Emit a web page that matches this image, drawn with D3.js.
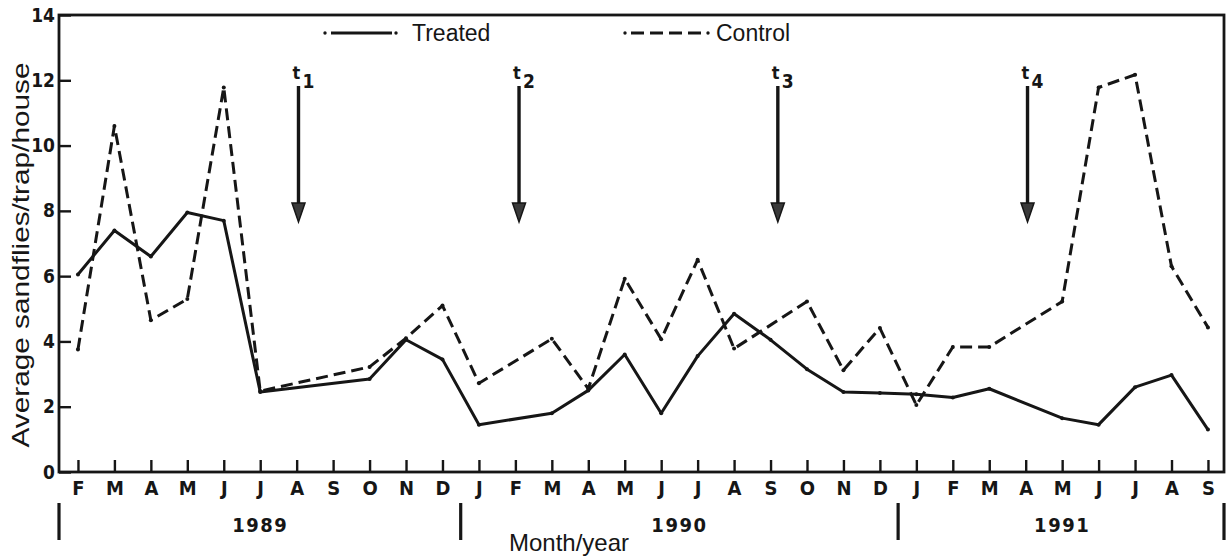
<!DOCTYPE html>
<html>
<head>
<meta charset="utf-8">
<script src="https://cdn.jsdelivr.net/npm/d3@7/dist/d3.min.js"></script>
<style>
  html, body { margin: 0; padding: 0; background: #fff; }
  svg { display: block; }
</style>
</head>
<body>
<svg id="chart" width="1226" height="557"></svg>
<script>
// ---- data ----
const months = ["F","M","A","M","J","J","A","S","O","N","D",
                "J","F","M","A","M","J","J","A","S","O","N","D",
                "J","F","M","A","M","J","J","A","S"];
const treated = [6.05, 7.4, 6.6, 7.95, 7.7, 2.45, null, null, 2.85, 4.05, 3.45,
                 1.45, null, 1.8, 2.5, 3.6, 1.8, 3.55, 4.85, 4.05, 3.15, 2.45, 2.42,
                 2.38, 2.28, 2.55, null, 1.65, 1.45, 2.6, 2.97, 1.3];
const control = [3.75, 10.6, 4.65, 5.3, 11.78, 2.48, null, null, 3.22, 4.1, 5.1,
                 2.72, null, 4.08, 2.55, 5.92, 4.07, 6.5, 3.78, null, 5.22, 3.12, 4.41,
                 2.05, 3.83, 3.83, null, 5.22, 11.78, 12.17, 6.3, 4.43];
const yTicks = [0, 2, 4, 6, 8, 10, 12, 14];
const years = [
  { label: "1989", from: 0, to: 10 },
  { label: "1990", from: 11, to: 22 },
  { label: "1991", from: 23, to: 31 }
];
const treatments = [
  { label: "1", month: 6.05 },
  { label: "2", month: 12.1 },
  { label: "3", month: 19.2 },
  { label: "4", month: 26.05 }
];
const seriesNames = ["Treated", "Control"];

// ---- layout ----
const svg = d3.select("#chart");
const pLeft = 59, pRight = 1224, pTop = 15, pBottom = 472;
const x = d3.scaleLinear().domain([-0.52, 31.44]).range([pLeft, pRight]);
const y = d3.scaleLinear().domain([0, 14]).range([pBottom, pTop]);
const ink = "#161616";
const tickFont = "'DejaVu Sans Condensed', 'DejaVu Sans', sans-serif";
const textFont = "'Liberation Sans', Arial, Helvetica, sans-serif";

// frame
svg.append("rect")
  .attr("x", pLeft).attr("y", pTop)
  .attr("width", pRight - pLeft).attr("height", pBottom - pTop)
  .attr("fill", "none").attr("stroke", ink).attr("stroke-width", 2.8);

// y axis
const yAxis = d3.axisLeft(y).tickValues(yTicks).tickSize(-12).tickPadding(5)
  .tickFormat(d3.format("d"));
const gy = svg.append("g").attr("transform", `translate(${pLeft},0)`).call(yAxis);
gy.select(".domain").remove();
gy.selectAll(".tick line").attr("stroke", ink).attr("stroke-width", 2.4);
gy.selectAll(".tick text")
  .attr("font-family", tickFont).attr("font-weight", "bold")
  .attr("font-size", 19).attr("fill", ink).attr("x", -4);

// x axis
const xAxis = d3.axisBottom(x).tickValues(d3.range(months.length)).tickSize(-12)
  .tickPadding(8).tickFormat(i => months[i]);
const gx = svg.append("g").attr("transform", `translate(0,${pBottom})`).call(xAxis);
gx.select(".domain").remove();
gx.selectAll(".tick line").attr("stroke", ink).attr("stroke-width", 2.4);
gx.selectAll(".tick text")
  .attr("font-family", tickFont).attr("font-weight", "bold")
  .attr("font-size", 20).attr("fill", ink).attr("y", 9).attr("dy", "0.71em");

// year separators and labels
const sepPositions = [x(-0.52), x(10.5), x(22.5), x(31.44)];
svg.selectAll("line.sep").data(sepPositions).enter().append("line")
  .attr("class", "sep")
  .attr("x1", d => d).attr("x2", d => d)
  .attr("y1", 503).attr("y2", 540)
  .attr("stroke", ink).attr("stroke-width", 3.2);
svg.selectAll("text.year").data(years).enter().append("text")
  .attr("class", "year")
  .attr("x", d => x((d.from + d.to) / 2))
  .attr("y", 532)
  .attr("text-anchor", "middle")
  .attr("font-family", tickFont).attr("font-weight", "bold")
  .attr("font-size", 20).attr("fill", ink)
  .attr("letter-spacing", 1.5)
  .text(d => d.label);

// axis titles
svg.append("text")
  .attr("x", 569).attr("y", 551)
  .attr("text-anchor", "middle")
  .attr("font-family", textFont).attr("font-size", 24).attr("fill", ink)
  .text("Month/year");
svg.append("text")
  .attr("transform", "translate(29,255) rotate(-90)")
  .attr("text-anchor", "middle")
  .attr("font-family", textFont).attr("font-size", 24).attr("fill", ink)
  .attr("textLength", 385).attr("lengthAdjust", "spacingAndGlyphs")
  .text("Average sandflies/trap/house");

// lines
const line = d3.line().x(d => x(d.i)).y(d => y(d.v));
function pts(arr) { return arr.map((v, i) => ({ i, v })).filter(d => d.v !== null); }

svg.append("path").datum(pts(control))
  .attr("d", line).attr("fill", "none").attr("stroke", ink)
  .attr("stroke-width", 3).attr("stroke-dasharray", "12,6")
  .attr("stroke-linejoin", "round");
svg.append("path").datum(pts(treated))
  .attr("d", line).attr("fill", "none").attr("stroke", ink)
  .attr("stroke-width", 3).attr("stroke-linejoin", "round");

[treated, control].forEach(arr => {
  svg.append("g").selectAll("circle").data(pts(arr)).enter().append("circle")
    .attr("cx", d => x(d.i)).attr("cy", d => y(d.v)).attr("r", 2).attr("fill", ink);
});

// legend
const legend = [
  { name: seriesNames[0], x1: 325, x2: 396, tx: 412, dash: null },
  { name: seriesNames[1], x1: 625, x2: 708, tx: 716, dash: "13,6" }
];
legend.forEach(l => {
  svg.append("line")
    .attr("x1", l.x1 + 6).attr("x2", l.x2 - 4).attr("y1", 33).attr("y2", 33)
    .attr("stroke", ink).attr("stroke-width", 2.8)
    .attr("stroke-dasharray", l.dash);
  svg.append("circle").attr("cx", l.x1).attr("cy", 33).attr("r", 1.7).attr("fill", ink);
  svg.append("circle").attr("cx", l.x2).attr("cy", 33).attr("r", 1.7).attr("fill", ink);
  svg.append("text")
    .attr("x", l.tx).attr("y", 41)
    .attr("font-family", textFont).attr("font-size", 23).attr("fill", ink)
    .text(l.name);
});

// treatment arrows
const arrows = svg.selectAll("g.arrow").data(treatments).enter().append("g")
  .attr("class", "arrow")
  .attr("transform", d => `translate(${x(d.month)},0)`);
arrows.append("line")
  .attr("x1", 0).attr("x2", 0).attr("y1", 86).attr("y2", 205)
  .attr("stroke", ink).attr("stroke-width", 3.4);
arrows.append("path")
  .attr("d", "M-6.5,203 L6.5,203 L0,222 Z")
  .attr("fill", "#3a3a3a").attr("stroke", ink).attr("stroke-width", 1.5);
arrows.append("text")
  .attr("x", -6).attr("y", 79)
  .attr("font-family", tickFont).attr("font-weight", "bold")
  .attr("font-size", 18).attr("fill", ink).text("t");
arrows.append("text")
  .attr("x", 4).attr("y", 88)
  .attr("font-family", tickFont).attr("font-weight", "bold")
  .attr("font-size", 19).attr("fill", ink).text(d => d.label);
</script>
</body>
</html>
